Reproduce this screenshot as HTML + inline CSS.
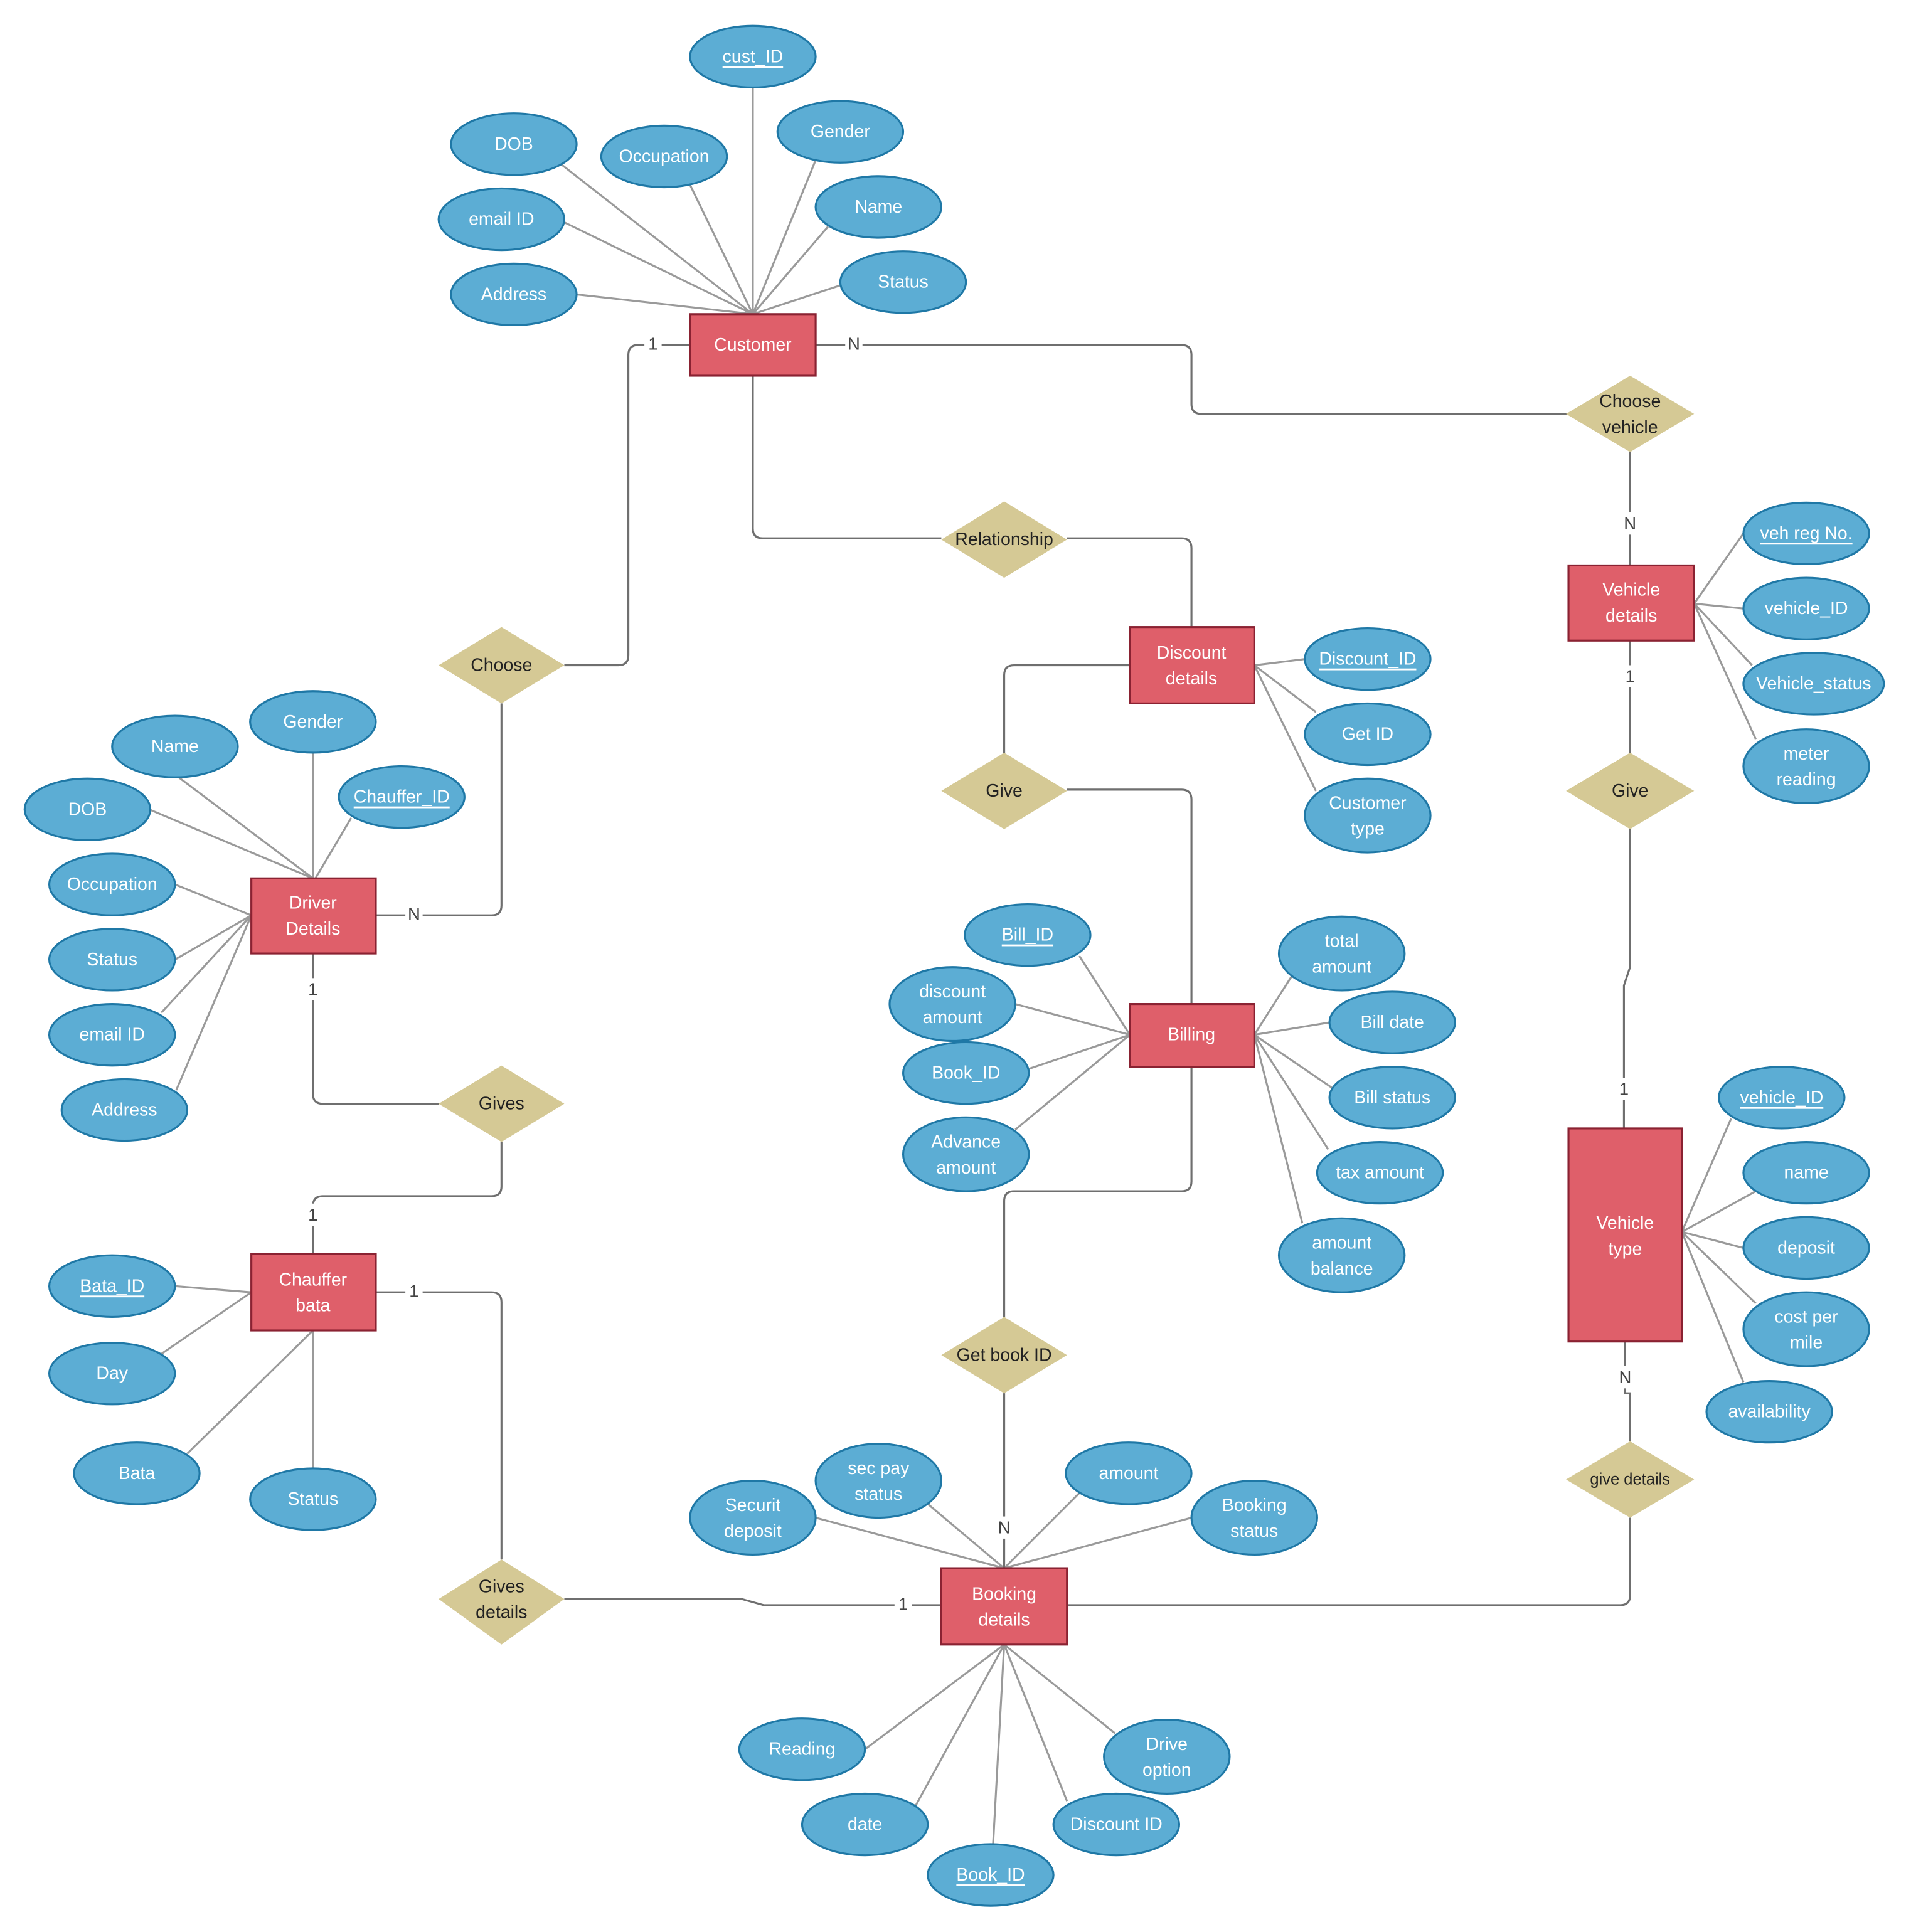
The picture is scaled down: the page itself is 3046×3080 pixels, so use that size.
<!DOCTYPE html>
<html><head><meta charset="utf-8"><style>
html,body{margin:0;padding:0;background:#fff;}
svg{display:block;}
text{font-family:"Liberation Sans",sans-serif;font-size:14.5px;text-anchor:middle;dominant-baseline:central;}
.e{fill:#5cadd4;stroke:#1f78a6;stroke-width:1.6;}
.et{fill:#fff;}
.r{fill:#df5f6a;stroke:#8a2232;stroke-width:1.6;}
.d{fill:#d5c995;stroke:none;}
.dt{fill:#222;}
.a{stroke:#9a9a9a;stroke-width:1.6;fill:none;}
.c{stroke:#6f6f6f;stroke-width:1.6;fill:none;}
.lb{fill:#fff;}
.lt{fill:#444;font-size:14px;}
</style></head><body>
<svg width="3046" height="3080" viewBox="0 0 1551 1568.3" xmlns="http://www.w3.org/2000/svg">
<rect width="1569" height="1587" fill="#fff"/>
<g class="a">
<line x1="611" y1="70" x2="611" y2="255"/><line x1="455" y1="133" x2="611" y2="255"/><line x1="560" y1="150" x2="611" y2="255"/><line x1="662" y1="130" x2="611" y2="255"/><line x1="672" y1="184" x2="611" y2="255"/><line x1="457" y1="180" x2="611" y2="255"/><line x1="684" y1="231" x2="611" y2="255"/><line x1="468" y1="239" x2="611" y2="255"/>
<line x1="1415" y1="433" x2="1375" y2="490"/><line x1="1415" y1="494" x2="1375" y2="490"/><line x1="1422" y1="540" x2="1375" y2="490"/><line x1="1425" y1="600" x2="1375" y2="490"/>
<line x1="1405" y1="908" x2="1365" y2="1000"/><line x1="1425" y1="967" x2="1365" y2="1000"/><line x1="1415" y1="1013" x2="1365" y2="1000"/><line x1="1425" y1="1058" x2="1365" y2="1000"/><line x1="1415" y1="1122" x2="1365" y2="1000"/>
<line x1="1059" y1="535" x2="1018" y2="540"/><line x1="1068" y1="578" x2="1018" y2="540"/><line x1="1068" y1="642" x2="1018" y2="540"/>
<line x1="876" y1="776" x2="917" y2="840"/><line x1="824" y1="815" x2="917" y2="840"/><line x1="834" y1="868" x2="917" y2="840"/><line x1="824" y1="917" x2="917" y2="840"/>
<line x1="1048" y1="793" x2="1018" y2="840"/><line x1="1079" y1="830" x2="1018" y2="840"/><line x1="1081" y1="883" x2="1018" y2="840"/><line x1="1078" y1="933" x2="1018" y2="840"/><line x1="1057" y1="993" x2="1018" y2="840"/>
<line x1="662" y1="1232" x2="815" y2="1273"/><line x1="752" y1="1220" x2="815" y2="1273"/><line x1="876" y1="1212" x2="815" y2="1273"/><line x1="967" y1="1232" x2="815" y2="1273"/>
<line x1="702" y1="1420" x2="815" y2="1335"/><line x1="743" y1="1466" x2="815" y2="1335"/><line x1="806" y1="1497" x2="815" y2="1335"/><line x1="866" y1="1462" x2="815" y2="1335"/><line x1="905" y1="1407" x2="815" y2="1335"/>
<line x1="254" y1="611" x2="254" y2="713"/><line x1="145" y1="631" x2="254" y2="713"/><line x1="285" y1="664" x2="256" y2="713"/><line x1="121" y1="657" x2="254" y2="713"/><line x1="142" y1="718" x2="204" y2="743"/><line x1="142" y1="779" x2="204" y2="743"/><line x1="131" y1="822" x2="204" y2="743"/><line x1="143" y1="885" x2="204" y2="743"/>
<line x1="142" y1="1044" x2="204" y2="1049"/><line x1="131" y1="1099" x2="204" y2="1049"/><line x1="152" y1="1180" x2="254" y2="1080"/><line x1="254" y1="1192" x2="254" y2="1080"/>
</g>
<g class="c">
<path d="M662 280 H959 Q967 280 967 288 V328 Q967 336 975 336 H1272"/>
<line x1="1323" y1="367" x2="1323" y2="459"/>
<line x1="1323" y1="520" x2="1323" y2="611"/>
<path d="M1323 673 V785 L1318 800 V916"/>
<path d="M1319 1089 V1131 H1323 V1170"/>
<path d="M1323 1232 V1295 Q1323 1303 1315 1303 H866"/>
<path d="M611 305 V429 Q611 437 619 437 H764"/>
<path d="M866 437 H959 Q967 437 967 445 V509"/>
<path d="M917 540 H823 Q815 540 815 548 V611"/>
<path d="M866 641 H959 Q967 641 967 649 V815"/>
<path d="M967 866 V959 Q967 967 959 967 H823 Q815 967 815 975 V1069"/>
<line x1="815" y1="1131" x2="815" y2="1273"/>
<path d="M560 280 H518 Q510 280 510 288 V532 Q510 540 502 540 H458"/>
<path d="M407 571 V735 Q407 743 399 743 H305"/>
<path d="M254 774 V888 Q254 896 262 896 H356"/>
<path d="M407 927 V963 Q407 971 399 971 H262 Q254 971 254 979 V1018"/>
<path d="M305 1049 H399 Q407 1049 407 1057 V1266"/>
<path d="M458 1298 H602 L620 1303 H764"/>
</g>
<g>
<rect class="lb" x="686" y="271" width="14" height="18"/><text class="lt" x="693" y="279">N</text>
<rect class="lb" x="1316" y="416" width="14" height="18"/><text class="lt" x="1323" y="425">N</text>
<rect class="lb" x="1316" y="540" width="14" height="18"/><text class="lt" x="1323" y="549">1</text>
<rect class="lb" x="1311" y="875" width="14" height="18"/><text class="lt" x="1318" y="884">1</text>
<rect class="lb" x="1312" y="1109" width="14" height="18"/><text class="lt" x="1319" y="1118">N</text>
<rect class="lb" x="808" y="1231" width="14" height="18"/><text class="lt" x="815" y="1240">N</text>
<rect class="lb" x="523" y="270" width="14" height="18"/><text class="lt" x="530" y="279">1</text>
<rect class="lb" x="329" y="734" width="14" height="18"/><text class="lt" x="336" y="742">N</text>
<rect class="lb" x="247" y="794" width="14" height="18"/><text class="lt" x="254" y="803">1</text>
<rect class="lb" x="247" y="977" width="14" height="18"/><text class="lt" x="254" y="986">1</text>
<rect class="lb" x="329" y="1039" width="14" height="18"/><text class="lt" x="336" y="1048">1</text>
<rect class="lb" x="726" y="1293" width="14" height="18"/><text class="lt" x="733" y="1302">1</text>
</g>
<g>
<polygon class="d" points="1323,305 1375,336 1323,367 1271,336"/><text class="dt" x="1323" y="326">Choose</text><text class="dt" x="1323" y="347">vehicle</text>
<polygon class="d" points="1323,611 1375,642 1323,673 1271,642"/><text class="dt" x="1323" y="642">Give</text>
<polygon class="d" points="1323,1170 1375,1201 1323,1232 1271,1201"/><text class="dt" x="1323" y="1201" style="font-size:13px">give details</text>
<polygon class="d" points="815,407 866,438 815,469 764,438"/><text class="dt" x="815" y="438">Relationship</text>
<polygon class="d" points="815,611 866,642 815,673 764,642"/><text class="dt" x="815" y="642">Give</text>
<polygon class="d" points="815,1069 866,1100 815,1131 764,1100"/><text class="dt" x="815" y="1100">Get book ID</text>
<polygon class="d" points="407,509 458,540 407,571 356,540"/><text class="dt" x="407" y="540">Choose</text>
<polygon class="d" points="407,865 458,896 407,927 356,896"/><text class="dt" x="407" y="896">Gives</text>
<polygon class="d" points="407,1266 458,1298 407,1335 356,1298"/><text class="dt" x="407" y="1288">Gives</text><text class="dt" x="407" y="1309">details</text>
</g>
<g>
<rect class="r" x="560" y="255" width="102" height="50"/><text class="et" x="611" y="280">Customer</text>
<rect class="r" x="1273" y="459" width="102" height="61"/><text class="et" x="1324" y="479">Vehicle</text><text class="et" x="1324" y="500">details</text>
<rect class="r" x="1273" y="916" width="92" height="173"/><text class="et" x="1319" y="993">Vehicle</text><text class="et" x="1319" y="1014">type</text>
<rect class="r" x="917" y="509" width="101" height="62"/><text class="et" x="967" y="530">Discount</text><text class="et" x="967" y="551">details</text>
<rect class="r" x="917" y="815" width="101" height="51"/><text class="et" x="967" y="840">Billing</text>
<rect class="r" x="764" y="1273" width="102" height="62"/><text class="et" x="815" y="1294">Booking</text><text class="et" x="815" y="1315">details</text>
<rect class="r" x="204" y="713" width="101" height="61"/><text class="et" x="254" y="733">Driver</text><text class="et" x="254" y="754">Details</text>
<rect class="r" x="204" y="1018" width="101" height="62"/><text class="et" x="254" y="1039">Chauffer</text><text class="et" x="254" y="1060">bata</text>
</g>
<g>
<ellipse class="e" cx="611" cy="46" rx="51" ry="25"/><text class="et" x="611" y="46" text-decoration="underline">cust_ID</text>
<ellipse class="e" cx="417" cy="117" rx="51" ry="25"/><text class="et" x="417" y="117">DOB</text>
<ellipse class="e" cx="539" cy="127" rx="51" ry="25"/><text class="et" x="539" y="127">Occupation</text>
<ellipse class="e" cx="682" cy="107" rx="51" ry="25"/><text class="et" x="682" y="107">Gender</text>
<ellipse class="e" cx="713" cy="168" rx="51" ry="25"/><text class="et" x="713" y="168">Name</text>
<ellipse class="e" cx="407" cy="178" rx="51" ry="25"/><text class="et" x="407" y="178">email ID</text>
<ellipse class="e" cx="733" cy="229" rx="51" ry="25"/><text class="et" x="733" y="229">Status</text>
<ellipse class="e" cx="417" cy="239" rx="51" ry="25"/><text class="et" x="417" y="239">Address</text>

<ellipse class="e" cx="1466" cy="433" rx="51" ry="25"/><text class="et" x="1466" y="433" text-decoration="underline">veh reg No.</text>
<ellipse class="e" cx="1466" cy="494" rx="51" ry="25"/><text class="et" x="1466" y="494">vehicle_ID</text>
<ellipse class="e" cx="1472" cy="555" rx="57" ry="25"/><text class="et" x="1472" y="555">Vehicle_status</text>
<ellipse class="e" cx="1466" cy="622" rx="51" ry="30"/><text class="et" x="1466" y="612">meter</text><text class="et" x="1466" y="633">reading</text>

<ellipse class="e" cx="1446" cy="891" rx="51" ry="25"/><text class="et" x="1446" y="891" text-decoration="underline">vehicle_ID</text>
<ellipse class="e" cx="1466" cy="952" rx="51" ry="25"/><text class="et" x="1466" y="952">name</text>
<ellipse class="e" cx="1466" cy="1013" rx="51" ry="25"/><text class="et" x="1466" y="1013">deposit</text>
<ellipse class="e" cx="1466" cy="1079" rx="51" ry="30"/><text class="et" x="1466" y="1069">cost per</text><text class="et" x="1466" y="1090">mile</text>
<ellipse class="e" cx="1436" cy="1146" rx="51" ry="25"/><text class="et" x="1436" y="1146">availability</text>

<ellipse class="e" cx="1110" cy="535" rx="51" ry="25"/><text class="et" x="1110" y="535" text-decoration="underline">Discount_ID</text>
<ellipse class="e" cx="1110" cy="596" rx="51" ry="25"/><text class="et" x="1110" y="596">Get ID</text>
<ellipse class="e" cx="1110" cy="662" rx="51" ry="30"/><text class="et" x="1110" y="652">Customer</text><text class="et" x="1110" y="673">type</text>

<ellipse class="e" cx="834" cy="759" rx="51" ry="25"/><text class="et" x="834" y="759" text-decoration="underline">Bill_ID</text>
<ellipse class="e" cx="773" cy="815" rx="51" ry="30"/><text class="et" x="773" y="805">discount</text><text class="et" x="773" y="826">amount</text>
<ellipse class="e" cx="784" cy="871" rx="51" ry="25"/><text class="et" x="784" y="871">Book_ID</text>
<ellipse class="e" cx="784" cy="937" rx="51" ry="30"/><text class="et" x="784" y="927">Advance</text><text class="et" x="784" y="948">amount</text>
<ellipse class="e" cx="1089" cy="774" rx="51" ry="30"/><text class="et" x="1089" y="764">total</text><text class="et" x="1089" y="785">amount</text>
<ellipse class="e" cx="1130" cy="830" rx="51" ry="25"/><text class="et" x="1130" y="830">Bill date</text>
<ellipse class="e" cx="1130" cy="891" rx="51" ry="25"/><text class="et" x="1130" y="891">Bill status</text>
<ellipse class="e" cx="1120" cy="952" rx="51" ry="25"/><text class="et" x="1120" y="952">tax amount</text>
<ellipse class="e" cx="1089" cy="1019" rx="51" ry="30"/><text class="et" x="1089" y="1009">amount</text><text class="et" x="1089" y="1030">balance</text>

<ellipse class="e" cx="611" cy="1232" rx="51" ry="30"/><text class="et" x="611" y="1222">Securit</text><text class="et" x="611" y="1243">deposit</text>
<ellipse class="e" cx="713" cy="1202" rx="51" ry="30"/><text class="et" x="713" y="1192">sec pay</text><text class="et" x="713" y="1213">status</text>
<ellipse class="e" cx="916" cy="1196" rx="51" ry="25"/><text class="et" x="916" y="1196">amount</text>
<ellipse class="e" cx="1018" cy="1232" rx="51" ry="30"/><text class="et" x="1018" y="1222">Booking</text><text class="et" x="1018" y="1243">status</text>
<ellipse class="e" cx="651" cy="1420" rx="51" ry="25"/><text class="et" x="651" y="1420">Reading</text>
<ellipse class="e" cx="702" cy="1481" rx="51" ry="25"/><text class="et" x="702" y="1481">date</text>
<ellipse class="e" cx="804" cy="1522" rx="51" ry="25"/><text class="et" x="804" y="1522" text-decoration="underline">Book_ID</text>
<ellipse class="e" cx="906" cy="1481" rx="51" ry="25"/><text class="et" x="906" y="1481">Discount ID</text>
<ellipse class="e" cx="947" cy="1426" rx="51" ry="30"/><text class="et" x="947" y="1416">Drive</text><text class="et" x="947" y="1437">option</text>

<ellipse class="e" cx="142" cy="606" rx="51" ry="25"/><text class="et" x="142" y="606">Name</text>
<ellipse class="e" cx="254" cy="586" rx="51" ry="25"/><text class="et" x="254" y="586">Gender</text>
<ellipse class="e" cx="326" cy="647" rx="51" ry="25"/><text class="et" x="326" y="647" text-decoration="underline">Chauffer_ID</text>
<ellipse class="e" cx="71" cy="657" rx="51" ry="25"/><text class="et" x="71" y="657">DOB</text>
<ellipse class="e" cx="91" cy="718" rx="51" ry="25"/><text class="et" x="91" y="718">Occupation</text>
<ellipse class="e" cx="91" cy="779" rx="51" ry="25"/><text class="et" x="91" y="779">Status</text>
<ellipse class="e" cx="91" cy="840" rx="51" ry="25"/><text class="et" x="91" y="840">email ID</text>
<ellipse class="e" cx="101" cy="901" rx="51" ry="25"/><text class="et" x="101" y="901">Address</text>

<ellipse class="e" cx="91" cy="1044" rx="51" ry="25"/><text class="et" x="91" y="1044" text-decoration="underline">Bata_ID</text>
<ellipse class="e" cx="91" cy="1115" rx="51" ry="25"/><text class="et" x="91" y="1115">Day</text>
<ellipse class="e" cx="111" cy="1196" rx="51" ry="25"/><text class="et" x="111" y="1196">Bata</text>
<ellipse class="e" cx="254" cy="1217" rx="51" ry="25"/><text class="et" x="254" y="1217">Status</text>
</g>
</svg>
</body></html>
